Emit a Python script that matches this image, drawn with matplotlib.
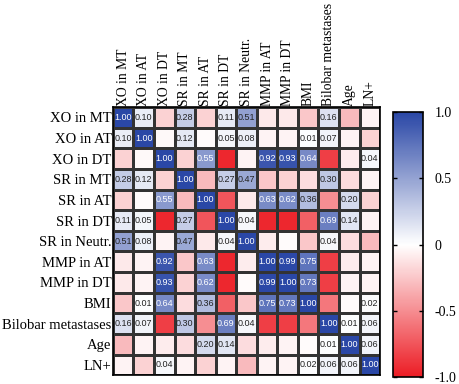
import numpy as np
import matplotlib
matplotlib.use("Agg")
import matplotlib.pyplot as plt
from matplotlib.colors import LinearSegmentedColormap

labels = ["XO in MT", "XO in AT", "XO in DT", "SR in MT", "SR in AT", "SR in DT",
          "SR in Neutr.", "MMP in AT", "MMP in DT", "BMI", "Bilobar metastases", "Age", "LN+"]

r_xo_mt   = [1.00, 0.10, -0.20, 0.28, -0.20, 0.11, 0.51, -0.10, -0.10, -0.25, 0.16, -0.30, -0.05]
r_xo_at   = [0.10, 1.00, -0.03, 0.12, -0.02, 0.05, 0.08, -0.05, -0.05, 0.01, 0.07, -0.05, -0.20]
r_xo_dt   = [-0.20, -0.03, 1.00, -0.20, 0.55, -0.95, -0.05, 0.92, 0.93, 0.64, -0.85, -0.08, 0.04]
r_sr_mt   = [0.28, 0.12, -0.20, 1.00, -0.30, 0.27, 0.47, -0.25, -0.20, -0.15, 0.30, -0.15, -0.05]
r_sr_at   = [-0.20, -0.02, 0.55, -0.30, 1.00, -0.75, -0.10, 0.63, 0.62, 0.36, -0.50, 0.20, -0.20]
r_sr_dt   = [0.11, 0.05, -0.95, 0.27, -0.75, 1.00, 0.04, -0.95, -0.95, -0.70, 0.69, 0.14, -0.05]
r_sr_neu  = [0.51, 0.08, -0.05, 0.47, -0.10, 0.04, 1.00, -0.08, -0.02, -0.25, 0.04, -0.15, -0.30]
r_mmp_at  = [-0.10, -0.05, 0.92, -0.25, 0.63, -0.95, -0.08, 1.00, 0.99, 0.75, -0.85, -0.08, -0.05]
r_mmp_dt  = [-0.10, -0.05, 0.93, -0.20, 0.62, -0.95, -0.02, 0.99, 1.00, 0.73, -0.85, -0.05, -0.05]
r_bmi     = [-0.25, 0.01, 0.64, -0.15, 0.36, -0.70, -0.25, 0.75, 0.73, 1.00, -0.60, -0.02, 0.02]
r_bilobar = [0.16, 0.07, -0.85, 0.30, -0.50, 0.69, 0.04, -0.85, -0.85, -0.60, 1.00, 0.01, 0.06]
r_age     = [-0.30, -0.05, -0.08, -0.15, 0.20, 0.14, -0.15, -0.08, -0.05, -0.02, 0.01, 1.00, 0.06]
r_ln      = [-0.05, -0.20, 0.04, -0.05, -0.20, -0.05, -0.30, -0.05, -0.05, 0.02, 0.06, 0.06, 1.00]

M = np.array([r_xo_mt, r_xo_at, r_xo_dt, r_sr_mt, r_sr_at, r_sr_dt, r_sr_neu,
              r_mmp_at, r_mmp_dt, r_bmi, r_bilobar, r_age, r_ln])
n = len(labels)

cmap = LinearSegmentedColormap.from_list("rwb", ["#ec1c24", "#ffffff", "#2a47a6"])

fig = plt.figure(figsize=(4.59, 3.84), dpi=100)
ax = fig.add_axes([0.246, 0.023, 0.582, 0.698])
mesh = ax.pcolormesh(np.arange(n + 1), np.arange(n + 1), M, cmap=cmap, vmin=-1, vmax=1,
                     edgecolors="#333333", linewidth=0.8)
ax.set_xlim(0, n)
ax.set_ylim(n, 0)
ax.xaxis.tick_top()
ax.set_xticks(np.arange(n) + 0.5)
ax.set_yticks(np.arange(n) + 0.5)
serif = "Liberation Serif"
ax.set_xticklabels(labels, rotation=90, fontsize=9.8, family=serif)
ax.set_yticklabels(labels, fontsize=10.5, family=serif)
ax.tick_params(length=0, pad=1)
for s in ax.spines.values():
    s.set_linewidth(1.2)
    s.set_color("black")

for i in range(n):
    for j in range(n):
        v = M[i, j]
        if v >= 0:
            col = "white" if v > 0.52 else "#222222"
            ax.text(j + 0.5, i + 0.5, f"{v:.2f}", ha="center", va="center",
                    fontsize=6.5, color=col, family="Liberation Sans")

cax = fig.add_axes([0.856, 0.018, 0.066, 0.69])
cb = fig.colorbar(mesh, cax=cax, ticks=[-1, -0.5, 0, 0.5, 1])
cb.ax.set_yticklabels(["-1.0", "-0.5", "0", "0.5", "1.0"], family=serif, fontsize=10)
cb.ax.tick_params(direction="in", length=3, width=1, left=True, right=True, pad=8)
cb.outline.set_linewidth(1.2)

fig.savefig("out.png", dpi=100)
